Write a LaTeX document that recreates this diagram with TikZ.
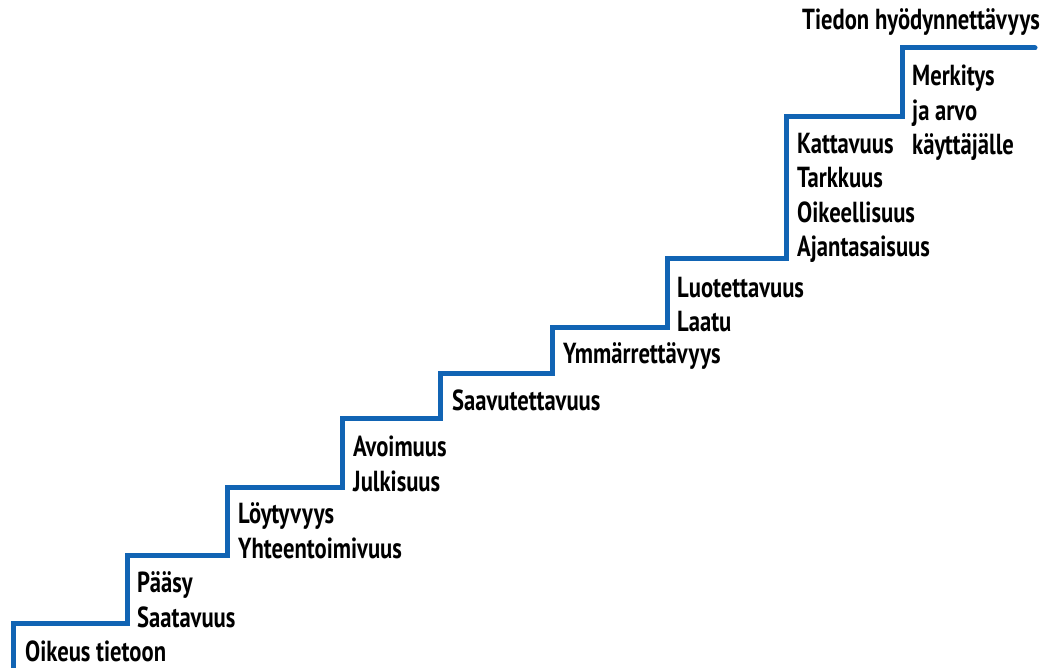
\documentclass[tikz,border=0pt]{standalone}
\usepackage{fontspec}
\usepackage{xcolor}
\newfontfamily\stepfont{PT Sans}[FakeStretch=0.78]
\definecolor{stairblue}{RGB}{17,100,180}
\tikzset{%
	stair/.style     = {draw=stairblue, line width=5pt, line join=miter, line cap=round},
	steplabel/.style = {anchor=base west, inner sep=0pt, align=left, font=\stepfont\bfseries\fontsize{29}{34.5}\selectfont},
}
\begin{document}
\begin{tikzpicture}[x=1pt,y=-1pt]
	\useasboundingbox (0,0) rectangle (1042,668);
	% staircase
	\draw[stair] (13,672) -- (13,623) -- (127,623) -- (127,555) -- (227,555) -- (227,487)
		-- (342,487) -- (342,418) -- (440,418) -- (440,374) -- (552,374) -- (552,328)
		-- (667,328) -- (667,259) -- (786,259) -- (786,117) -- (902,117) -- (902,48) -- (1035,48);
	% labels on the steps (base = last line)
	\node[steplabel] (oikeus) at (25,661) {Oikeus tietoon};
	\node[steplabel] (paasy) at (137,627) {Pääsy\\Saatavuus};
	\node[steplabel] (loytyvyys) at (238,558) {Löytyvyys\\Yhteentoimivuus};
	\node[steplabel] (avoimuus) at (353,491) {Avoimuus\\Julkisuus};
	\node[steplabel] (saavutettavuus) at (452,410) {Saavutettavuus};
	\node[steplabel] (ymmarrettavyys) at (563,364) {Ymmärrettävyys};
	\node[steplabel] (luotettavuus) at (677,332) {Luotettavuus\\Laatu};
	\node[steplabel] (kattavuus) at (797,257) {Kattavuus\\Tarkkuus\\Oikeellisuus\\Ajantasaisuus};
	\node[steplabel] (merkitys) at (912,155) {Merkitys\\ja arvo\\käyttäjälle};
	\node[steplabel] (tiedon) at (802,30) {Tiedon hyödynnettävyys};
\end{tikzpicture}
\end{document}
